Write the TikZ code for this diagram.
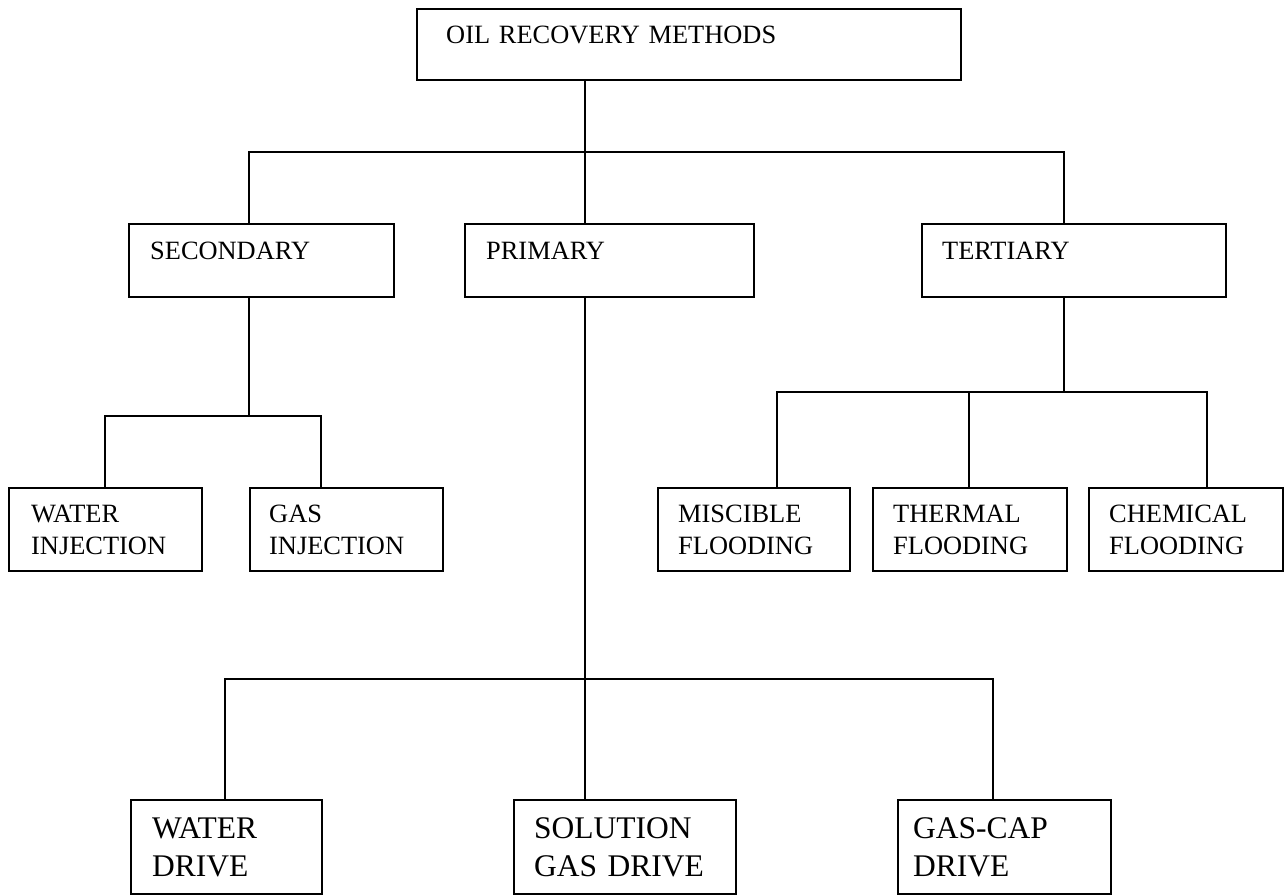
\documentclass[tikz,border=0pt]{standalone}
\usepackage{fontspec}
\setmainfont{Liberation Serif}
\begin{document}
\begin{tikzpicture}[x=1pt,y=-1pt,
  box/.style={draw=black,line width=1.8pt,rectangle,inner sep=0pt,anchor=north west},
  lbl/.style={anchor=base west,inner sep=0pt,text width=420pt,align=left,font=\fontsize{26.4}{32}\selectfont},
  lblbig/.style={lbl,font=\fontsize{31.5}{38}\selectfont},
  conn/.style={line width=1.8pt,line cap=rect}]
\useasboundingbox (0,0) rectangle (1288,895);
% boxes
\node[box,minimum width=544pt,minimum height=71pt] (top) at (416,8) {};
\node[box,minimum width=265pt,minimum height=73pt] (sec) at (128,223) {};
\node[box,minimum width=289pt,minimum height=73pt] (pri) at (464,223) {};
\node[box,minimum width=304pt,minimum height=73pt] (ter) at (921,223) {};
\node[box,minimum width=193pt,minimum height=83pt] (wi) at (8,487) {};
\node[box,minimum width=193pt,minimum height=83pt] (gi) at (249,487) {};
\node[box,minimum width=192pt,minimum height=83pt] (mi) at (657,487) {};
\node[box,minimum width=194pt,minimum height=83pt] (th) at (872,487) {};
\node[box,minimum width=194pt,minimum height=83pt] (ch) at (1088,487) {};
\node[box,minimum width=191pt,minimum height=94pt] (wd) at (130,799) {};
\node[box,minimum width=222pt,minimum height=94pt] (sg) at (513,799) {};
\node[box,minimum width=213pt,minimum height=94pt] (gc) at (897,799) {};
% texts
\node[lbl] (ttop) at (446,43) {OIL RECOVERY METHODS};
\node[lbl] (tsec) at (150,259) {SECONDARY};
\node[lbl] (tpri) at (486,259) {PRIMARY};
\node[lbl] (tter) at (942,259) {TERTIARY};
\node[lbl] (twi) at (31,522) {WATER\\INJECTION};
\node[lbl] (tgi) at (269,522) {GAS\\INJECTION};
\node[lbl] (tmi) at (678,522) {MISCIBLE\\FLOODING};
\node[lbl] (tth) at (893,522) {THERMAL\\FLOODING};
\node[lbl] (tch) at (1109,522) {CHEMICAL\\FLOODING};
\node[lblbig] (twd) at (152,838) {WATER\\DRIVE};
\node[lblbig] (tsg) at (534,838) {SOLUTION\\GAS DRIVE};
\node[lblbig] (tgc) at (913,838) {GAS-CAP\\DRIVE};
% junctions
\coordinate (h0) at (585,152);
\coordinate (hL) at (249,152);
\coordinate (hR) at (1064,152);
\coordinate (s0) at (249,416);
\coordinate (s1) at (105,416);
\coordinate (s2) at (321,416);
\coordinate (t0) at (1064,392);
\coordinate (t1) at (777,392);
\coordinate (t2) at (969,392);
\coordinate (t3) at (1207,392);
\coordinate (p0) at (585,679);
\coordinate (p1) at (225,679);
\coordinate (p3) at (993,679);
% connectors
\draw[conn] (top.south -| h0) -- (h0);
\draw[conn] (sec.north -| hL) -- (hL) -- (hR) -- (ter.north -| hR);
\draw[conn] (h0) -- (pri.north -| h0);
\draw[conn] (sec.south -| s0) -- (s0);
\draw[conn] (wi.north -| s1) -- (s1) -- (s2) -- (gi.north -| s2);
\draw[conn] (ter.south -| t0) -- (t0);
\draw[conn] (mi.north -| t1) -- (t1) -- (t3) -- (ch.north -| t3);
\draw[conn] (t2) -- (th.north -| t2);
\draw[conn] (pri.south -| p0) -- (p0);
\draw[conn] (wd.north -| p1) -- (p1) -- (p3) -- (gc.north -| p3);
\draw[conn] (p0) -- (sg.north -| p0);
\end{tikzpicture}
\end{document}
